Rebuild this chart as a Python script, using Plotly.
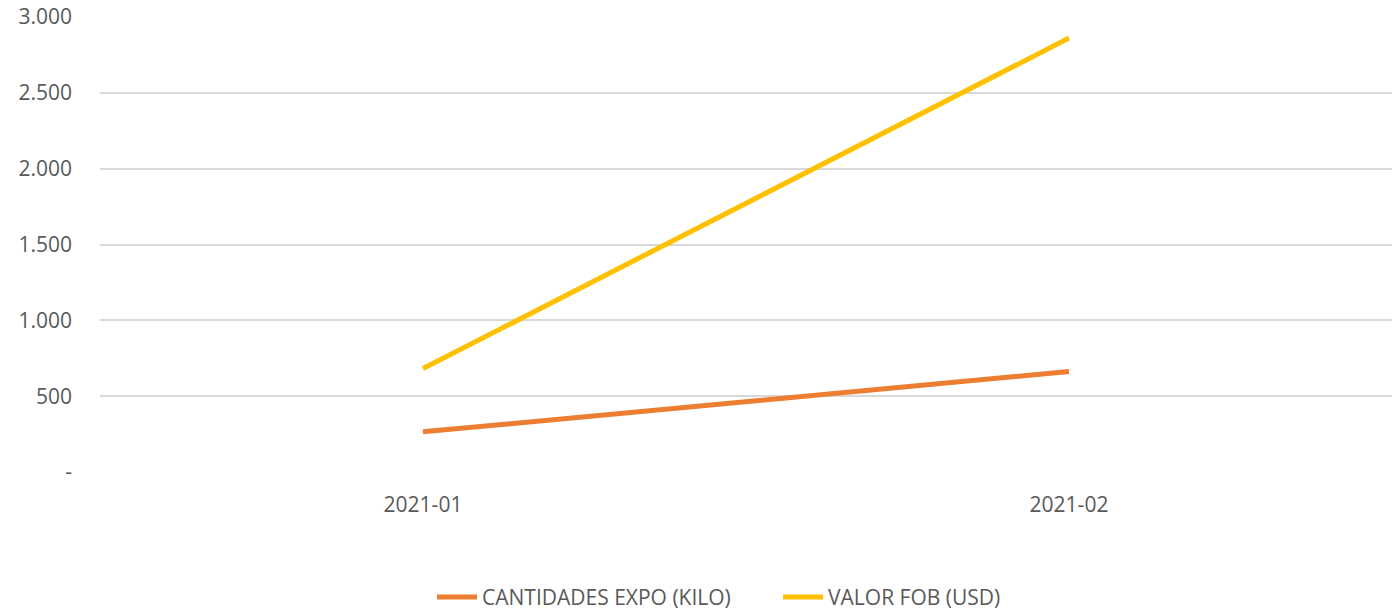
import plotly.graph_objects as go

# data
periodos = ["2021-01", "2021-02"]
cantidades_kilo = [265, 662]
valor_fob_usd = [682, 2861]

y_ticks = [0, 500, 1000, 1500, 2000, 2500, 3000]
y_labels = ["-", "500", "1.000", "1.500", "2.000", "2.500", "3.000"]

fig = go.Figure()

fig.add_trace(go.Scatter(
    x=periodos, y=cantidades_kilo, name="CANTIDADES EXPO (KILO)",
    mode="lines", line=dict(color="#ED7D31", width=5)
))
fig.add_trace(go.Scatter(
    x=periodos, y=valor_fob_usd, name="VALOR FOB (USD)",
    mode="lines", line=dict(color="#FFC000", width=5)
))

fig.update_layout(
    width=1394,
    height=620,
    plot_bgcolor="white",
    paper_bgcolor="white",
    margin=dict(l=100, r=2, t=17, b=142),
    font=dict(family="Open Sans, Liberation Sans, sans-serif", size=21, color="#595959"),
    xaxis=dict(
        type="category", range=[-0.5, 1.5], showgrid=False, zeroline=False,
        showline=False, ticks="", ticklabelstandoff=18, automargin=False,
        tickfont=dict(size=21, color="#595959")
    ),
    yaxis=dict(
        range=[0, 3000], tickvals=y_ticks, ticktext=y_labels,
        showgrid=True, gridcolor="#D9D9D9", gridwidth=1.5, zeroline=False,
        ticks="", ticklabelstandoff=27, automargin=False,
        tickfont=dict(size=21, color="#595959")
    ),
    legend=dict(
        orientation="h", x=0.257, xanchor="left", y=-0.2754, yanchor="middle",
        font=dict(size=21, color="#595959"), itemwidth=40,
        entrywidth=291, traceorder="normal"
    ),
)

# page fits the window exactly: no body margin, no overflow
page_fix = (
    "document.documentElement.style.overflow='hidden';"
    "document.body.style.margin='0';"
    "document.body.style.overflow='hidden';"
)
fig.write_html("out.html", post_script=page_fix, config={"displayModeBar": False})
